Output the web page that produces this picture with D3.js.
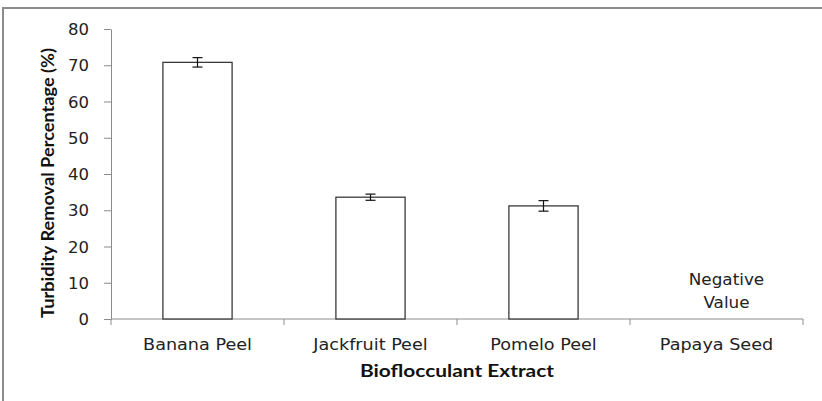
<!DOCTYPE html>
<html>
<head>
<meta charset="utf-8">
<script src="https://cdn.jsdelivr.net/npm/d3@7"></script>
<style>
    body { margin: 0; background: #fff; }
    svg { display: block; }
</style>
</head>
<body>
<svg id="chart" width="822" height="401"></svg>
<script>
// data
var categories = ['Banana Peel', 'Jackfruit Peel', 'Pomelo Peel', 'Papaya Seed'];
var removal = [70.8, 33.6, 31.2, null];     // papaya gave a negative value, no bar
var errors = [1.3, 0.85, 1.45, null];
var yTicks = [0, 10, 20, 30, 40, 50, 60, 70, 80];
var note = ['Negative', 'Value'];

var svg = d3.select('#chart'),
    width = +svg.attr('width'),
    height = +svg.attr('height');

var margin = {top: 29, right: 19, bottom: 82, left: 111};
var plotW = width - margin.left - margin.right,
    plotH = height - margin.top - margin.bottom;

// the text in the picture is wider than the font, so stretch it a bit
function stretch(sel, factor) {
    sel.each(function () {
        var w = this.getComputedTextLength();
        d3.select(this).attr('textLength', w * factor).attr('lengthAdjust', 'spacingAndGlyphs');
    });
}

// outer frame (top + left only, like the crop)
svg.append('path')
    .attr('d', 'M3,' + height + ' V8 H' + width)
    .style('fill', 'none')
    .style('stroke', '#8c8c8c')
    .style('stroke-width', 2);

var x = d3.scaleBand()
    .domain(categories)
    .range([0, plotW])
    .paddingInner(0.6)
    .paddingOuter(0.3);

var y = d3.scaleLinear()
    .domain([0, 80])
    .range([plotH, 0]);

var g = svg.append('g')
    .attr('transform', 'translate(' + margin.left + ',' + margin.top + ')');

// y axis
var yAxis = g.append('g')
    .call(d3.axisLeft(y).tickValues(yTicks).tickSize(7).tickPadding(15).tickSizeOuter(0));
yAxis.select('.domain').style('stroke', '#8c8c8c');
yAxis.selectAll('.tick line').style('stroke', '#8c8c8c');
yAxis.selectAll('text')
    .attr('dy', '0.38em')
    .style('font-family', 'DejaVu Sans')
    .style('font-size', '15px')
    .style('fill', '#222')
    .call(stretch, 1.1);

// x axis, ticks sit on band boundaries
var xAxis = g.append('g').attr('transform', 'translate(0,' + plotH + ')');
xAxis.append('line')
    .attr('x1', 0).attr('x2', plotW)
    .style('stroke', '#8c8c8c');
xAxis.selectAll('.xtick')
    .data(d3.range(categories.length + 1))
    .enter().append('line')
    .attr('class', 'xtick')
    .attr('x1', function (i) { return i * plotW / categories.length; })
    .attr('x2', function (i) { return i * plotW / categories.length; })
    .attr('y1', 0).attr('y2', 6)
    .style('stroke', '#8c8c8c');
xAxis.selectAll('.xlabel')
    .data(categories)
    .enter().append('text')
    .attr('class', 'xlabel')
    .attr('x', function (d) { return x(d) + x.bandwidth() / 2; })
    .attr('y', 31)
    .attr('text-anchor', 'middle')
    .style('font-family', 'DejaVu Sans')
    .style('font-size', '16px')
    .style('fill', '#222')
    .text(function (d) { return d; })
    .call(stretch, 1.1);

// bars
var rows = categories.map(function (c, i) {
    return {name: c, value: removal[i], err: errors[i]};
});
var drawn = rows.filter(function (d) { return d.value !== null; });

g.selectAll('.bar')
    .data(drawn)
    .enter().append('rect')
    .attr('class', 'bar')
    .attr('x', function (d) { return x(d.name); })
    .attr('y', function (d) { return y(d.value); })
    .attr('width', x.bandwidth())
    .attr('height', function (d) { return plotH - y(d.value); })
    .style('fill', '#fff')
    .style('stroke', '#3a3a3a')
    .style('stroke-width', 1.3);

// error bars
var eb = g.selectAll('.err')
    .data(drawn)
    .enter().append('g')
    .attr('class', 'err')
    .attr('transform', function (d) { return 'translate(' + (x(d.name) + x.bandwidth() / 2) + ',0)'; });
eb.append('line')
    .attr('y1', function (d) { return y(d.value + d.err); })
    .attr('y2', function (d) { return y(d.value - d.err); });
eb.append('line')
    .attr('x1', -5).attr('x2', 5)
    .attr('y1', function (d) { return y(d.value + d.err); })
    .attr('y2', function (d) { return y(d.value + d.err); });
eb.append('line')
    .attr('x1', -5).attr('x2', 5)
    .attr('y1', function (d) { return y(d.value - d.err); })
    .attr('y2', function (d) { return y(d.value - d.err); });
eb.selectAll('line').style('stroke', '#111').style('stroke-width', 1.2);

// note for the missing bar
var noteX = x('Papaya Seed') + x.bandwidth() / 2 + 10;
g.selectAll('.note')
    .data(note)
    .enter().append('text')
    .attr('class', 'note')
    .attr('x', noteX)
    .attr('y', function (d, i) { return y(9.4) + i * 23; })
    .attr('text-anchor', 'middle')
    .style('font-family', 'DejaVu Sans')
    .style('font-size', '16px')
    .style('fill', '#222')
    .text(function (d) { return d; })
    .call(stretch, 1.05);

// axis titles
svg.append('text')
    .attr('x', margin.left + plotW / 2)
    .attr('y', 377)
    .attr('text-anchor', 'middle')
    .attr('textLength', 194)
    .attr('lengthAdjust', 'spacingAndGlyphs')
    .style('font-family', 'Lato')
    .style('font-weight', 'bold')
    .style('font-size', '16.5px')
    .style('fill', '#111')
    .text('Bioflocculant Extract');

svg.append('text')
    .attr('transform', 'translate(54,183) rotate(-90)')
    .attr('text-anchor', 'middle')
    .attr('textLength', 270)
    .attr('lengthAdjust', 'spacingAndGlyphs')
    .style('font-family', 'Lato')
    .style('font-weight', 'bold')
    .style('font-size', '16.5px')
    .style('fill', '#111')
    .text('Turbidity Removal Percentage (%)');
</script>
</body>
</html>
